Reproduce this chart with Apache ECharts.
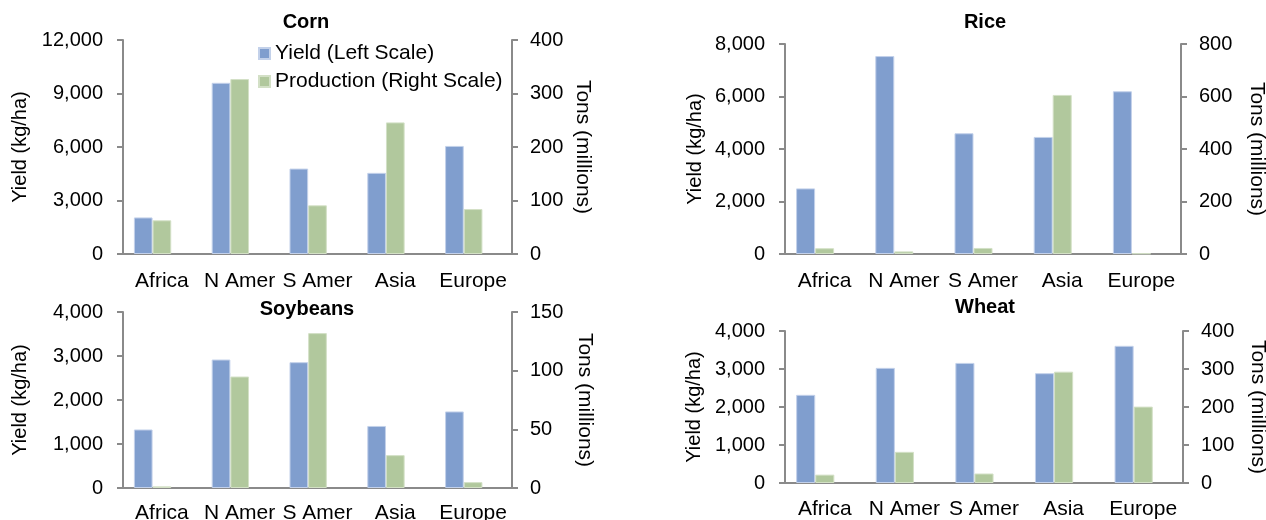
<!DOCTYPE html>
<html>
<head>
<meta charset="utf-8">
<script src="https://cdn.jsdelivr.net/npm/echarts@6/dist/echarts.min.js"></script>
<style>
html,body{margin:0;padding:0;background:#fff;}
#chart{width:1266px;height:520px;}
</style>
</head>
<body>
<div id="chart"></div>
<script>
const categories = ['Africa', 'N Amer', 'S Amer', 'Asia', 'Europe'];
const cornYield = [2050, 9600, 4790, 4550, 6060];
const cornProd = [63, 327, 91, 246, 84];
const riceYield = [2500, 7540, 4600, 4460, 6200];
const riceProd = [22, 10, 23, 606, 2];
const soyYield = [1330, 2920, 2860, 1410, 1740];
const soyProd = [1.4, 95, 132, 28, 5];
const wheatYield = [2320, 3030, 3160, 2890, 3610];
const wheatProd = [22, 82, 25, 293, 201];

const panelTitles = ['Corn', 'Rice', 'Soybeans', 'Wheat'];
const leftTicks = [[0, 12000, 3000], [0, 8000, 2000], [0, 4000, 1000], [0, 4000, 1000]];
const rightTicks = [[0, 400, 100], [0, 800, 200], [0, 150, 50], [0, 400, 100]];
const yieldName = 'Yield (Left Scale)';
const prodName = 'Production (Right Scale)';
const leftAxisName = 'Yield (kg/ha)';
const rightAxisName = 'Tons (millions)';

const yields = [cornYield, riceYield, soyYield, wheatYield];
const prods = [cornProd, riceProd, soyProd, wheatProd];

const FONT = "'Liberation Sans', Arial, sans-serif";
const BLUE = '#809ECE';
const GREEN = '#B1C89D';
const AXIS = '#8a8a8a';

const grids = [
  {left: 123, top: 40, width: 389, height: 214, outerBoundsMode: 'none', containLabel: false},
  {left: 785, top: 44, width: 396, height: 210, outerBoundsMode: 'none', containLabel: false},
  {left: 123, top: 312, width: 389, height: 176, outerBoundsMode: 'none', containLabel: false},
  {left: 785, top: 331, width: 398, height: 152, outerBoundsMode: 'none', containLabel: false}
];
const titlePos = [[306, 12], [985, 12], [307, 299], [985, 297]];
const leftGap = [93, 80, 93, 81];
const rightGap = [60, 65, 62, 64];
const catMargin = [17, 17, 15, 16];

const fmt = v => Number(v).toLocaleString('en-US');

const xAxes = [], yAxes = [], series = [], titles = [];
for (let i = 0; i < 4; i++) {
  titles.push({
    text: panelTitles[i], left: titlePos[i][0], top: titlePos[i][1], textAlign: 'center', padding: 0,
    textStyle: {fontFamily: FONT, fontSize: 20, fontWeight: 'bold', color: '#000'}
  });
  xAxes.push({
    type: 'category', gridIndex: i, data: categories,
    axisLine: {lineStyle: {color: AXIS, width: 2}},
    axisTick: {show: false},
    axisLabel: {fontFamily: FONT, fontSize: 21, color: '#000', margin: catMargin[i], interval: 0}
  });
  const common = {
    type: 'value', gridIndex: i, splitLine: {show: false},
    axisLine: {show: true, lineStyle: {color: AXIS, width: 2}},
    axisTick: {show: true, length: 6, lineStyle: {color: AXIS, width: 2}},
    nameLocation: 'middle'
  };
  yAxes.push(Object.assign({}, common, {
    position: 'left', min: leftTicks[i][0], max: leftTicks[i][1], interval: leftTicks[i][2],
    name: leftAxisName, nameRotate: 90, nameGap: leftGap[i],
    nameTextStyle: {fontFamily: FONT, fontSize: 20, color: '#000'},
    axisLabel: {fontFamily: FONT, fontSize: 20, color: '#000', margin: 20, formatter: fmt}
  }));
  yAxes.push(Object.assign({}, common, {
    position: 'right', min: rightTicks[i][0], max: rightTicks[i][1], interval: rightTicks[i][2],
    name: rightAxisName, nameRotate: -90, nameGap: rightGap[i],
    nameTextStyle: {fontFamily: FONT, fontSize: 21, color: '#000'},
    axisLabel: {fontFamily: FONT, fontSize: 20, color: '#000', margin: 18, formatter: fmt}
  }));
  series.push({
    name: yieldName, type: 'bar', xAxisIndex: i, yAxisIndex: 2 * i, data: yields[i],
    barGap: '0%', barCategoryGap: '28%',
    itemStyle: {color: BLUE, borderColor: '#c3d1ea', borderWidth: 1}, silent: true
  });
  series.push({
    name: prodName, type: 'bar', xAxisIndex: i, yAxisIndex: 2 * i + 1, data: prods[i],
    barGap: '0%', barCategoryGap: '28%',
    itemStyle: {color: GREEN, borderColor: '#d3e0c6', borderWidth: 1}, silent: true
  });
  // empty third slot (as in the original clustered layout)
  series.push({
    name: 'spacer', type: 'bar', xAxisIndex: i, yAxisIndex: 2 * i, data: [],
    barGap: '0%', barCategoryGap: '28%', silent: true
  });
}

const chart = echarts.init(document.getElementById('chart'), null, {renderer: 'canvas'});
chart.setOption({
  animation: false,
  backgroundColor: '#fff',
  title: titles,
  legend: {
    data: [yieldName, prodName], orient: 'vertical', left: 258, top: 43, padding: 0,
    itemWidth: 11, itemHeight: 11, itemGap: 7,
    icon: 'rect',
    textStyle: {fontFamily: FONT, fontSize: 21, color: '#000', padding: [0, 0, 0, 0]}
  },
  grid: grids,
  xAxis: xAxes,
  yAxis: yAxes,
  series: series
});
</script>
</body>
</html>
